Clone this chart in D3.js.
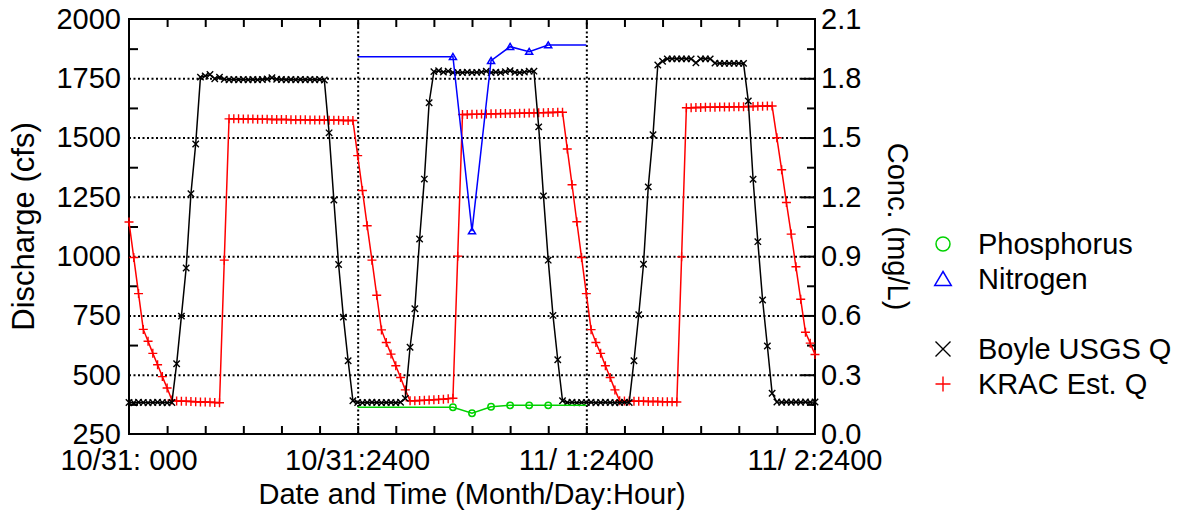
<!DOCTYPE html>
<html>
<head>
<meta charset="utf-8">
<script src="https://cdn.jsdelivr.net/npm/d3@7"></script>
<style>
  body { margin: 0; background: #fff; }
  svg { display: block; font-family: "Liberation Sans", Arial, sans-serif; }
  .grid line { stroke: #000; stroke-width: 2; stroke-dasharray: 2,2.5; }
  .grid path { display: none; }
</style>
</head>
<body>
<svg id="chart" width="1182" height="514"></svg>
<script>
// sampling: half-hourly from 10/31 00:00
const startHour = 0;
const stepHours = 0.5;

// Boyle USGS Q (cfs)
const boyleQ = [
  383, 382, 384, 383, 382, 383, 384, 383, 382, 383,
  546, 747, 950, 1263, 1473, 1755, 1760, 1766, 1748, 1755,
  1746, 1744, 1745, 1744, 1745, 1744, 1745, 1744, 1745, 1747,
  1752, 1746, 1745, 1744, 1745, 1744, 1745, 1744, 1745, 1744,
  1745, 1743, 1520, 1237, 965, 743, 559, 390,
  383, 382, 383, 384, 383, 382, 383, 383, 382, 384,
  400, 616, 778, 1072, 1325, 1647, 1778,
  1782, 1776, 1780, 1774, 1775, 1774, 1776, 1774, 1775, 1776,
  1780, 1774, 1776, 1774, 1778, 1782, 1775, 1774, 1776, 1780,
  1780, 1545, 1254, 983, 750, 563, 390,
  383, 384, 382, 383, 383, 384, 382, 383, 384, 383, 382, 383, 384, 383,
  559, 753, 966, 1292, 1512, 1806, 1822,
  1832, 1832, 1832, 1832, 1832, 1832, 1815, 1832, 1832, 1832, 1814,
  1813, 1813, 1813, 1813, 1813, 1813,
  1654, 1324, 1061, 815, 621, 422,
  385, 384, 385, 384, 385, 384, 385, 384, 385
];

// KRAC Est. Q (cfs)
const kracQ = [
  1144, 994, 842, 691, 641, 590, 542, 492, 444, 393,
  389, 388, 388, 387, 386, 385, 385, 384, 383, 382,
  983, 1579,
  1579, 1579, 1578, 1578, 1578, 1577, 1577, 1577, 1576, 1576,
  1576, 1576, 1575, 1575, 1575, 1575, 1574, 1574, 1574, 1574,
  1573, 1573, 1573, 1572, 1572, 1572,
  1424, 1277, 1128, 983, 835, 689, 636, 587, 538, 488, 436, 390,
  390, 391, 392, 393, 394, 396, 397, 399, 401,
  1000, 1597,
  1597, 1598, 1598, 1599, 1599, 1600, 1600, 1601, 1601, 1602,
  1602, 1603, 1603, 1604, 1604, 1605, 1605, 1606, 1606, 1607, 1607,
  1452, 1301, 1145, 994, 842, 690, 636, 590, 538, 488, 436, 390,
  389, 389, 388, 388, 388, 387, 387, 387, 386, 386, 386, 385,
  997, 1626,
  1626, 1627, 1627, 1628, 1628, 1628, 1629, 1629, 1629, 1630,
  1630, 1630, 1631, 1631, 1632, 1632, 1633, 1633,
  1499, 1364, 1226, 1093, 955, 818, 679, 633, 585
];

// grab samples (mg/L), line held over the sampling day
const sampleHours = [34, 36, 38, 40, 42, 44];
const nitrogen = [1.909, 1.027, 1.889, 1.960, 1.935, 1.968];
const phosphorus = [0.135, 0.105, 0.138, 0.145, 0.145, 0.145];
const concWindow = [24, 48];

const leftTicks = [250, 500, 750, 1000, 1250, 1500, 1750, 2000];
const rightTicks = [0.0, 0.3, 0.6, 0.9, 1.2, 1.5, 1.8, 2.1];
const xTickHours = [0, 24, 48, 72];
const xTickLabels = ["10/31: 000", "10/31:2400", "11/ 1:2400", "11/ 2:2400"];

const legendItems = [
  {name: "Phosphorus", color: "#00d200", mark: "circle", gap: 0},
  {name: "Nitrogen", color: "#0000ff", mark: "triangle", gap: 0},
  {name: "Boyle USGS Q", color: "#000000", mark: "x", gap: 1},
  {name: "KRAC Est. Q", color: "#ff0000", mark: "plus", gap: 1}
];

const L = 129, R = 815, T = 19, B = 434;
const svg = d3.select("#chart");

const x = d3.scaleLinear().domain([0, 72]).range([L, R]);
const yL = d3.scaleLinear().domain([250, 2000]).range([B, T]);
const yR = d3.scaleLinear().domain([0, 2.1]).range([B, T]);

const fs = 29;

// grid
svg.append("g").attr("class", "grid")
  .attr("transform", `translate(${L},0)`)
  .call(d3.axisLeft(yL).tickValues(leftTicks.slice(1, -1)).tickSize(-(R - L)).tickFormat(""));
svg.append("g").attr("class", "grid")
  .attr("transform", `translate(0,${B})`)
  .call(d3.axisBottom(x).tickValues([24, 48]).tickSize(-(B - T)).tickFormat(""));

// minor / small ticks
const minorLeft = d3.range(375, 2000, 250);
const minorRight = d3.range(0.15, 2.1, 0.3);
const hourTicks = d3.range(4, 72, 4);

function ticks(g) {
  g.selectAll("path").remove();
  g.selectAll("line").attr("stroke", "#000").attr("stroke-width", 2);
}
svg.append("g").attr("transform", `translate(${L},0)`)
  .call(d3.axisLeft(yL).tickValues(minorLeft).tickSize(-9).tickFormat("")).call(ticks);
svg.append("g").attr("transform", `translate(${R},0)`)
  .call(d3.axisRight(yR).tickValues(minorRight).tickSize(-8).tickFormat("")).call(ticks);
svg.append("g").attr("transform", `translate(${R},0)`)
  .call(d3.axisRight(yR).tickValues(rightTicks.slice(1, -1)).tickSize(-14).tickFormat("")).call(ticks);
svg.append("g").attr("transform", `translate(0,${T})`)
  .call(d3.axisTop(x).tickValues(hourTicks).tickSize(-8).tickFormat("")).call(ticks);
svg.append("g").attr("transform", `translate(0,${B})`)
  .call(d3.axisBottom(x).tickValues(hourTicks).tickSize(-8).tickFormat("")).call(ticks);

// frame
svg.append("rect").attr("x", L).attr("y", T).attr("width", R - L).attr("height", B - T)
  .attr("fill", "none").attr("stroke", "#000").attr("stroke-width", 2);

// tick labels
svg.append("g").selectAll("text").data(leftTicks).join("text")
  .attr("x", L - 8).attr("y", d => yL(d)).attr("dy", "0.34em")
  .attr("text-anchor", "end").attr("font-size", fs).text(d => d);
svg.append("g").selectAll("text").data(rightTicks).join("text")
  .attr("x", R + 6).attr("y", d => yR(d)).attr("dy", "0.34em")
  .attr("text-anchor", "start").attr("font-size", fs).text(d => d3.format(".1f")(d));
svg.append("g").selectAll("text").data(xTickHours).join("text")
  .attr("x", d => x(d)).attr("y", 470)
  .attr("text-anchor", "middle").attr("font-size", fs).text((d, i) => xTickLabels[i]);

// axis titles
svg.append("text").attr("transform", `translate(34,${(T + B) / 2}) rotate(-90)`)
  .attr("text-anchor", "middle").attr("font-size", 31).text("Discharge (cfs)");
svg.append("text").attr("transform", `translate(888,${(T + B) / 2}) rotate(90)`)
  .attr("text-anchor", "middle").attr("font-size", fs).text("Conc. (mg/L)");
svg.append("text").attr("x", (L + R) / 2).attr("y", 504)
  .attr("text-anchor", "middle").attr("font-size", fs).text("Date and Time (Month/Day:Hour)");

// markers
function drawMark(g, type, cx, cy, s, color) {
  if (type === "circle") {
    g.append("circle").attr("cx", cx).attr("cy", cy).attr("r", s)
      .attr("fill", "none").attr("stroke", color).attr("stroke-width", 1.5);
  } else if (type === "triangle") {
    g.append("path")
      .attr("d", `M${cx},${cy - s}L${cx + s * 1.1},${cy + s * 0.85}L${cx - s * 1.1},${cy + s * 0.85}Z`)
      .attr("fill", "none").attr("stroke", color).attr("stroke-width", 1.5);
  } else if (type === "x") {
    g.append("path")
      .attr("d", `M${cx - s},${cy - s}L${cx + s},${cy + s}M${cx - s},${cy + s}L${cx + s},${cy - s}`)
      .attr("stroke", color).attr("stroke-width", 1.4);
  } else {
    g.append("path")
      .attr("d", `M${cx - s},${cy}L${cx + s},${cy}M${cx},${cy - s}L${cx},${cy + s}`)
      .attr("stroke", color).attr("stroke-width", 1.4);
  }
}

function drawSeries(vals, yScale, color, mark, size) {
  const pts = vals.map((v, i) => [x(startHour + i * stepHours), yScale(v)]);
  svg.append("path").attr("d", d3.line()(pts))
    .attr("fill", "none").attr("stroke", color).attr("stroke-width", 1.5);
  const g = svg.append("g");
  pts.forEach(p => drawMark(g, mark, p[0], p[1], size, color));
}

function drawConc(vals, color, mark, size) {
  const pts = [[concWindow[0], vals[0]]]
    .concat(sampleHours.map((h, i) => [h, vals[i]]))
    .concat([[concWindow[1], vals[vals.length - 1]]])
    .map(d => [x(d[0]), yR(d[1])]);
  svg.append("path").attr("d", d3.line()(pts))
    .attr("fill", "none").attr("stroke", color).attr("stroke-width", 1.5);
  const g = svg.append("g");
  sampleHours.forEach((h, i) => drawMark(g, mark, x(h), yR(vals[i]), size, color));
}

drawSeries(kracQ, yL, "#ff0000", "plus", 4.5);
drawSeries(boyleQ, yL, "#000000", "x", 3.2);
drawConc(phosphorus, "#00d200", "circle", 3.2);
drawConc(nitrogen, "#0000ff", "triangle", 3.2);

// legend
const lg = svg.append("g");
legendItems.forEach((d, i) => {
  const cy = 244 + i * 35 + d.gap * 35;
  const s = d.mark === "circle" ? 7 : 7.5;
  drawMark(lg, d.mark, 943, cy, s, d.color);
  lg.append("text").attr("x", 978).attr("y", cy).attr("dy", "0.36em")
    .attr("font-size", fs).text(d.name);
});
</script>
</body>
</html>
